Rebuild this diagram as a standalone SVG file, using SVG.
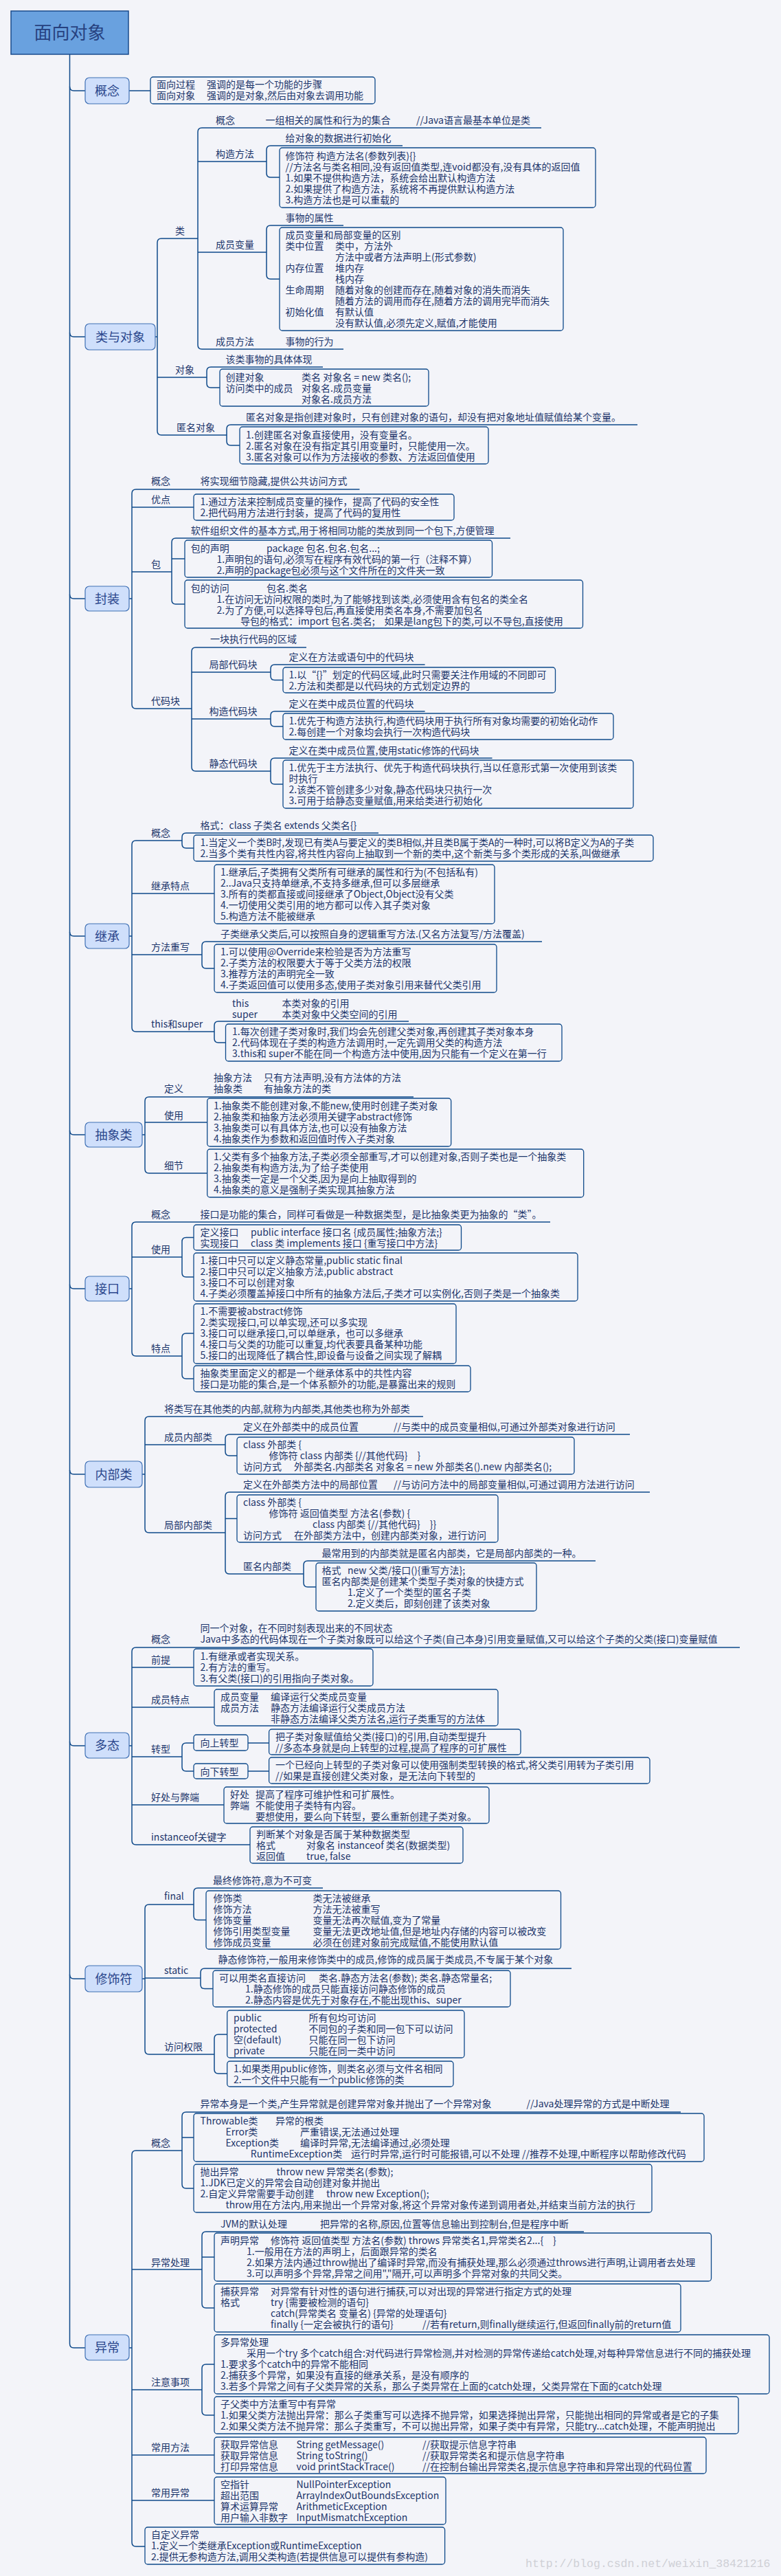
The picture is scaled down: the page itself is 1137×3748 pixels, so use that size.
<svg xmlns="http://www.w3.org/2000/svg" width="1137" height="3748" viewBox="0 0 1137 3748">
<style>
text{font-family:"Noto Sans CJK SC","Noto Sans",sans-serif;font-size:14px;fill:#1c356b}
.n{font-size:18px;text-anchor:middle;fill:#2a468c}
.r{font-size:26px;text-anchor:middle;fill:#27417f}
.bx{fill:none;stroke:#0f4a8a;stroke-width:1.3}
.nb{fill:#cfdffb;stroke:#3f70b4;stroke-width:1.2}
.rb{fill:#69a1df;stroke:#1a4b8c;stroke-width:1.5}
#conn path{fill:none;stroke:#0f4a8a;stroke-width:1.5}
.wm{font-family:"Liberation Mono",monospace;font-size:16.5px;fill:#cfd0d6}
</style>
<rect width="1137" height="3748" fill="#f3f4f9"/>

<g id="conn">
<path d="M101.5,79 V3410 Q101.5,3416 107.5,3416 H124"/>
<path d="M101.5,126 Q101.5,132 107.5,132 H124 M101.5,484 Q101.5,490 107.5,490 H124 M101.5,865 Q101.5,871 107.5,871 H124 M101.5,1356 Q101.5,1362 107.5,1362 H124 M101.5,1645 Q101.5,1651 107.5,1651 H124 M101.5,1869 Q101.5,1875 107.5,1875 H124 M101.5,2139 Q101.5,2145 107.5,2145 H124 M101.5,2534 Q101.5,2540 107.5,2540 H124 M101.5,2873 Q101.5,2879 107.5,2879 H124"/>
<path d="M188,132 H219"/>
<path d="M226,490 H229 M235,347 Q229,347 229,353 V627 Q229,633 235,633 M235,347 H288 M229,549 H301 M235,633 H330"/>
<path d="M294,186 Q288,186 288,192 V502 Q288,508 294,508 M294,186 H788 M288,235 H388 M288,367 H388 M294,508 H500"/>
<path d="M394,212 Q388,212 388,218 V252 Q388,258 394,258 M394,212 H586 M394,258 H407"/>
<path d="M394,328 Q388,328 388,334 V400 Q388,406 394,406 M394,328 H500 M394,406 H407"/>
<path d="M307,534 Q301,534 301,540 V558 Q301,564 307,564 M307,534 H470 M307,564 H320"/>
<path d="M336,618 Q330,618 330,624 V642 Q330,648 336,648 M336,618 H928 M336,648 H349"/>
<path d="M188,871 H192 M198,712 Q192,712 192,718 V1025 Q192,1031 198,1031 M198,712 H523.5 M192,738 H282 M192,832 H250 M198,1031 H279"/>
<path d="M256,783 Q250,783 250,789 V873 Q250,879 256,879 M256,783 H743 M250,813 H269 M256,879 H269"/>
<path d="M285,942 Q279,942 279,948 V1116 Q279,1122 285,1122 M285,942 H446 M279,978 H394 M279,1046 H394 M285,1122 H394"/>
<path d="M400,967 Q394,967 394,973 V983.5 Q394,989.5 400,989.5 M400,967 H618.6 M400,989.5 H412"/>
<path d="M400,1035 Q394,1035 394,1041 V1051 Q394,1057 400,1057 M400,1035 H618.6 M400,1057 H412"/>
<path d="M400,1103 Q394,1103 394,1109 V1135 Q394,1141 400,1141 M400,1103 H716.5 M400,1141 H412"/>
<path d="M188,1362 H192 M198,1223 Q192,1223 192,1229 V1495 Q192,1501 198,1501 M198,1223 H265 M192,1300 H312 M192,1389 H294 M198,1501 H312"/>
<path d="M271,1212 Q265,1212 265,1218 V1228 Q265,1234 271,1234 M271,1212 H551 M271,1234 H282"/>
<path d="M300,1370 Q294,1370 294,1376 V1403 Q294,1409 300,1409 M300,1370 H789 M300,1409 H312"/>
<path d="M318,1486 Q312,1486 312,1492 V1511 Q312,1517 318,1517 M318,1486 H595 M318,1517 H328.5"/>
<path d="M207,1651 H211 M217,1596 Q211,1596 211,1602 V1701 Q211,1707 217,1707 M217,1596 H602 M211,1633 H301.7 M217,1707 H301.7"/>
<path d="M188,1875 H192 M198,1778 Q192,1778 192,1784 V1967 Q192,1973 198,1973 M198,1778 H801 M192,1829 H265 M198,1973 H265"/>
<path d="M271,1800.5 Q265,1800.5 265,1806.5 V1852 Q265,1858 271,1858 M271,1800.5 H282 M271,1858 H282"/>
<path d="M271,1940 Q265,1940 265,1946 V2000 Q265,2006 271,2006 M271,1940 H282 M271,2006 H282"/>
<path d="M207,2145 H211 M217,2061 Q211,2061 211,2067 V2224 Q211,2230 217,2230 M217,2061 H616 M211,2102 H328 M217,2230 H328"/>
<path d="M334,2087 Q328,2087 328,2093 V2112 Q328,2118 334,2118 M334,2087 H917 M334,2118 H345"/>
<path d="M334,2171 Q328,2171 328,2177 V2284 Q328,2290 334,2290 M334,2171 H946 M328,2209.5 H345 M334,2290 H442"/>
<path d="M448,2271 Q442,2271 442,2277 V2303 Q442,2309 448,2309 M448,2271 H867 M448,2309 H460"/>
<path d="M188,2540 H192 M198,2397 Q192,2397 192,2403 V2678 Q192,2684 198,2684 M198,2397 H1077 M192,2426 H282 M192,2484 H312 M192,2556 H265 M192,2626 H326 M198,2684 H364"/>
<path d="M271,2536 Q265,2536 265,2542 V2571 Q265,2577 271,2577 M271,2536 H282 M271,2577 H282 M361,2536 H391.6 M361,2577 H391.6"/>
<path d="M207,2879 H211 M217,2771 Q211,2771 211,2777 V2983 Q211,2989 217,2989 M217,2771 H282 M211,2878 H292 M217,2989 H312"/>
<path d="M288,2747 Q282,2747 282,2753 V2787.5 Q282,2793.5 288,2793.5 M288,2747 H470 M288,2793.5 H300"/>
<path d="M298,2864 Q292,2864 292,2870 V2887.5 Q292,2893.5 298,2893.5 M298,2864 H832 M298,2893.5 H310"/>
<path d="M318,2960 Q312,2960 312,2966 V3011 Q312,3017 318,3017 M318,2960 H330.7 M318,3017 H330.7"/>
<path d="M188,3416 H192 M198,3129 Q192,3129 192,3135 V3699 Q192,3705 198,3705 M198,3129 H265 M192,3302 H294 M192,3477 H294 M192,3572 H312 M192,3638 H312 M198,3705 H211"/>
<path d="M271,3073 Q265,3073 265,3079 V3178 Q265,3184 271,3184 M271,3073 H991 M265,3110 H282 M271,3184 H282"/>
<path d="M300,3247 Q294,3247 294,3253 V3352 Q294,3358 300,3358 M300,3247 H850 M294,3284 H312 M300,3358 H312"/>
<path d="M300,3440 Q294,3440 294,3446 V3508 Q294,3514 300,3514 M300,3440 H312 M300,3514 H312"/>
</g>

<g id="root"><rect class="rb" x="16" y="16" width="171" height="63"/><text class="r" x="101.5" y="57">面向对象</text></g>

<!-- 概念 -->
<g id="gainian"><rect class="nb" x="124" y="113" width="64" height="38" rx="6"/><text class="n" x="156" y="138.5">概念</text></g>
<g id="gainian-box"><rect class="bx" x="219" y="112" width="327" height="39" rx="4"/>
<text><tspan x="228" y="128">面向过程</tspan><tspan x="301" y="128">强调的是每一个功能的步骤</tspan><tspan x="228" y="144">面向对象</tspan><tspan x="301" y="144">强调的是对象,然后由对象去调用功能</tspan></text></g>

<!-- 类与对象 -->
<g id="leiduixiang"><rect class="nb" x="124" y="471" width="102" height="38" rx="6"/><text class="n" x="175" y="496.5">类与对象</text></g>
<g id="lei"><text x="255" y="341">类</text></g>
<g id="lei-gainian"><text x="314" y="180">概念</text><text x="386.5" y="180">一组相关的属性和行为的集合</text><text x="606" y="180">//Java语言最基本单位是类</text></g>
<g id="gouzao"><text x="314" y="229">构造方法</text></g>
<g id="gouzao-def"><text x="415.5" y="206">给对象的数据进行初始化</text></g>
<g id="gouzao-box"><rect class="bx" x="407" y="215" width="460" height="87" rx="4"/>
<text><tspan x="415.5" y="232">修饰符 构造方法名(参数列表){}</tspan><tspan x="415.5" y="248">//方法名与类名相同,没有返回值类型,连void都没有,没有具体的返回值</tspan><tspan x="415.5" y="264">1.如果不提供构造方法，系统会给出默认构造方法</tspan><tspan x="415.5" y="280">2.如果提供了构造方法，系统将不再提供默认构造方法</tspan><tspan x="415.5" y="296">3.构造方法也是可以重载的</tspan></text></g>
<g id="chengyuanbianliang"><text x="314" y="361">成员变量</text></g>
<g id="cybl-def"><text x="415.5" y="322">事物的属性</text></g>
<g id="cybl-box"><rect class="bx" x="407" y="331" width="413" height="150" rx="4"/>
<text><tspan x="415.5" y="347">成员变量和局部变量的区别</tspan><tspan x="415.5" y="363">类中位置</tspan><tspan x="488" y="363">类中，方法外</tspan><tspan x="488" y="379">方法中或者方法声明上(形式参数)</tspan><tspan x="415.5" y="395">内存位置</tspan><tspan x="488" y="395">堆内存</tspan><tspan x="488" y="411">栈内存</tspan><tspan x="415.5" y="427">生命周期</tspan><tspan x="488" y="427">随着对象的创建而存在,随着对象的消失而消失</tspan><tspan x="488" y="443">随着方法的调用而存在,随着方法的调用完毕而消失</tspan><tspan x="415.5" y="459">初始化值</tspan><tspan x="488" y="459">有默认值</tspan><tspan x="488" y="475">没有默认值,必须先定义,赋值,才能使用</tspan></text></g>
<g id="chengyuanfangfa"><text x="314" y="502">成员方法</text><text x="415.5" y="502">事物的行为</text></g>
<g id="duixiang"><text x="255" y="543">对象</text></g>
<g id="duixiang-def"><text x="328.5" y="528">该类事物的具体体现</text></g>
<g id="duixiang-box"><rect class="bx" x="320" y="537" width="304" height="54" rx="4"/>
<text><tspan x="328.5" y="554">创建对象</tspan><tspan x="439" y="554">类名 对象名 = new 类名();</tspan><tspan x="328.5" y="570">访问类中的成员</tspan><tspan x="439" y="570">对象名.成员变量</tspan><tspan x="439" y="586">对象名.成员方法</tspan></text></g>
<g id="niming"><text x="257" y="627">匿名对象</text></g>
<g id="niming-def"><text x="358" y="612">匿名对象是指创建对象时，只有创建对象的语句，却没有把对象地址值赋值给某个变量。</text></g>
<g id="niming-box"><rect class="bx" x="349" y="621" width="362" height="54" rx="4"/>
<text><tspan x="358" y="638">1.创建匿名对象直接使用，没有变量名。</tspan><tspan x="358" y="654">2.匿名对象在没有指定其引用变量时，只能使用一次。</tspan><tspan x="358" y="670">3.匿名对象可以作为方法接收的参数、方法返回值使用</tspan></text></g>

<!-- 封装 -->
<g id="fengzhuang"><rect class="nb" x="124" y="853" width="64" height="36" rx="6"/><text class="n" x="156" y="877.5">封装</text></g>
<g id="fz-gainian"><text x="220" y="705">概念</text><text x="291.5" y="705">将实现细节隐藏,提供公共访问方式</text></g>
<g id="fz-youdian"><text x="220" y="732">优点</text></g>
<g id="fz-youdian-box"><rect class="bx" x="282" y="719" width="379" height="38" rx="4"/>
<text><tspan x="291.5" y="735">1.通过方法来控制成员变量的操作，提高了代码的安全性</tspan><tspan x="291.5" y="751">2.把代码用方法进行封装，提高了代码的复用性</tspan></text></g>
<g id="bao"><text x="220" y="826">包</text></g>
<g id="bao-def"><text x="277.7" y="777">软件组织文件的基本方式,用于将相同功能的类放到同一个包下,方便管理</text></g>
<g id="bao-box1"><rect class="bx" x="269" y="786" width="447.5" height="54" rx="4"/>
<text><tspan x="277.7" y="803">包的声明</tspan><tspan x="388" y="803">package 包名.包名.包名...;</tspan><tspan x="315.5" y="819">1.声明包的语句,必须写在程序有效代码的第一行（注释不算）</tspan><tspan x="315.5" y="835">2.声明的package包必须与这个文件所在的文件夹一致</tspan></text></g>
<g id="bao-box2"><rect class="bx" x="269" y="844" width="579.5" height="70" rx="4"/>
<text><tspan x="277.7" y="861">包的访问</tspan><tspan x="388" y="861">包名.类名</tspan><tspan x="315.5" y="877">1.在访问无访问权限的类时,为了能够找到该类,必须使用含有包名的类全名</tspan><tspan x="315.5" y="893">2.为了方便,可以选择导包后,再直接使用类名本身,不需要加包名</tspan><tspan x="350" y="909">导包的格式：import 包名.类名;　如果是lang包下的类,可以不导包,直接使用</tspan></text></g>
<g id="daimakuai"><text x="220" y="1025">代码块</text></g>
<g id="dmk-def"><text x="306" y="935">一块执行代码的区域</text></g>
<g id="jubu"><text x="304.6" y="972">局部代码块</text><text x="420.6" y="961">定义在方法或语句中的代码块</text></g>
<g id="jubu-box"><rect class="bx" x="412" y="971" width="396.5" height="37" rx="4"/>
<text><tspan x="420.6" y="987">1.以“{}”划定的代码区域,此时只需要关注作用域的不同即可</tspan><tspan x="420.6" y="1003">2.方法和类都是以代码块的方式划定边界的</tspan></text></g>
<g id="gouzaodmk"><text x="304.6" y="1040">构造代码块</text><text x="420.6" y="1029">定义在类中成员位置的代码块</text></g>
<g id="gouzaodmk-box"><rect class="bx" x="412" y="1038" width="481" height="38" rx="4"/>
<text><tspan x="420.6" y="1054">1.优先于构造方法执行,构造代码块用于执行所有对象均需要的初始化动作</tspan><tspan x="420.6" y="1070">2.每创建一个对象均会执行一次构造代码块</tspan></text></g>
<g id="jingtaidmk"><text x="304.6" y="1116">静态代码块</text><text x="420.6" y="1097">定义在类中成员位置,使用static修饰的代码块</text></g>
<g id="jingtaidmk-box"><rect class="bx" x="412" y="1106" width="510" height="70" rx="4"/>
<text><tspan x="420.6" y="1122">1.优先于主方法执行、优先于构造代码块执行,当以任意形式第一次使用到该类</tspan><tspan x="420.6" y="1138">时执行</tspan><tspan x="420.6" y="1154">2.该类不管创建多少对象,静态代码块只执行一次</tspan><tspan x="420.6" y="1170">3.可用于给静态变量赋值,用来给类进行初始化</tspan></text></g>

<!-- 继承 -->
<g id="jicheng"><rect class="nb" x="124" y="1344" width="64" height="36" rx="6"/><text class="n" x="156" y="1368.5">继承</text></g>
<g id="jc-gainian"><text x="220" y="1217">概念</text><text x="291.5" y="1206">格式：class 子类名 extends 父类名{}</text></g>
<g id="jc-gainian-box"><rect class="bx" x="282" y="1215" width="669" height="38" rx="4"/>
<text><tspan x="291.5" y="1231">1.当定义一个类B时,发现已有类A与要定义的类B相似,并且类B属于类A的一种时,可以将B定义为A的子类</tspan><tspan x="291.5" y="1247">2.当多个类有共性内容,将共性内容向上抽取到一个新的类中,这个新类与多个类形成的关系,叫做继承</tspan></text></g>
<g id="jc-tedian"><text x="220" y="1294">继承特点</text></g>
<g id="jc-tedian-box"><rect class="bx" x="312" y="1258" width="408" height="86" rx="4"/>
<text><tspan x="321" y="1274">1.继承后,子类拥有父类所有可继承的属性和行为(不包括私有)</tspan><tspan x="321" y="1290">2..Java只支持单继承,不支持多继承,但可以多层继承</tspan><tspan x="321" y="1306">3.所有的类都直接或间接继承了Object,Object没有父类</tspan><tspan x="321" y="1322">4.一切使用父类引用的地方都可以传入其子类对象</tspan><tspan x="321" y="1338">5.构造方法不能被继承</tspan></text></g>
<g id="jc-chongxie"><text x="220" y="1383">方法重写</text><text x="321" y="1364">子类继承父类后,可以按照自身的逻辑重写方法.(又名方法复写/方法覆盖)</text></g>
<g id="jc-chongxie-box"><rect class="bx" x="312" y="1374" width="411" height="70" rx="4"/>
<text><tspan x="321" y="1390">1.可以使用@Override来检验是否为方法重写</tspan><tspan x="321" y="1406">2.子类方法的权限要大于等于父类方法的权限</tspan><tspan x="321" y="1422">3.推荐方法的声明完全一致</tspan><tspan x="321" y="1438">4.子类返回值可以使用多态,使用子类对象引用来替代父类引用</tspan></text></g>
<g id="jc-this"><text x="220" y="1495">this和super</text>
<text><tspan x="338" y="1465">this</tspan><tspan x="410.5" y="1465">本类对象的引用</tspan><tspan x="338" y="1481">super</tspan><tspan x="410.5" y="1481">本类对象中父类空间的引用</tspan></text></g>
<g id="jc-this-box"><rect class="bx" x="328.5" y="1490" width="489.5" height="54" rx="4"/>
<text><tspan x="338" y="1506">1.每次创建子类对象时,我们均会先创建父类对象,再创建其子类对象本身</tspan><tspan x="338" y="1522">2.代码体现在子类的构造方法调用时,一定先调用父类的构造方法</tspan><tspan x="338" y="1538">3.this和 super不能在同一个构造方法中使用,因为只能有一个定义在第一行</tspan></text></g>

<!-- 抽象类 -->
<g id="chouxiang"><rect class="nb" x="124" y="1633" width="83" height="36" rx="6"/><text class="n" x="165.5" y="1657.5">抽象类</text></g>
<g id="cx-dingyi"><text x="239" y="1589">定义</text>
<text><tspan x="311" y="1573">抽象方法</tspan><tspan x="384" y="1573">只有方法声明,没有方法体的方法</tspan><tspan x="311" y="1589">抽象类</tspan><tspan x="384" y="1589">有抽象方法的类</tspan></text></g>
<g id="cx-shiyong"><text x="239" y="1628">使用</text></g>
<g id="cx-shiyong-box"><rect class="bx" x="301.7" y="1598" width="355" height="70" rx="4"/>
<text><tspan x="311" y="1614">1.抽象类不能创建对象,不能new,使用时创建子类对象</tspan><tspan x="311" y="1630">2.抽象类和抽象方法必须用关键字abstract修饰</tspan><tspan x="311" y="1646">3.抽象类可以有具体方法,也可以没有抽象方法</tspan><tspan x="311" y="1662">4.抽象类作为参数和返回值时传入子类对象</tspan></text></g>
<g id="cx-xijie"><text x="239" y="1701">细节</text></g>
<g id="cx-xijie-box"><rect class="bx" x="301.7" y="1672" width="548" height="70" rx="4"/>
<text><tspan x="311" y="1688">1.父类有多个抽象方法,子类必须全部重写,才可以创建对象,否则子类也是一个抽象类</tspan><tspan x="311" y="1704">2.抽象类有构造方法,为了给子类使用</tspan><tspan x="311" y="1720">3.抽象类一定是一个父类,因为是向上抽取得到的</tspan><tspan x="311" y="1736">4.抽象类的意义是强制子类实现其抽象方法</tspan></text></g>

<!-- 接口 -->
<g id="jiekou"><rect class="nb" x="124" y="1857" width="64" height="36" rx="6"/><text class="n" x="156" y="1881.5">接口</text></g>
<g id="jk-gainian"><text x="220" y="1772">概念</text><text x="291.5" y="1772">接口是功能的集合，同样可看做是一种数据类型，是比抽象类更为抽象的“类”。</text></g>
<g id="jk-shiyong"><text x="220" y="1823">使用</text></g>
<g id="jk-shiyong-box1"><rect class="bx" x="282" y="1782" width="389.5" height="37" rx="4"/>
<text><tspan x="291.5" y="1798">定义接口</tspan><tspan x="365" y="1798">public interface 接口名 {成员属性;抽象方法;}</tspan><tspan x="291.5" y="1814">实现接口</tspan><tspan x="365" y="1814">class 类 implements 接口 {重写接口中方法}</tspan></text></g>
<g id="jk-shiyong-box2"><rect class="bx" x="282" y="1823" width="559" height="70" rx="4"/>
<text><tspan x="291.5" y="1839">1.接口中只可以定义静态常量,public static final</tspan><tspan x="291.5" y="1855">2.接口中只可以定义抽象方法,public abstract</tspan><tspan x="291.5" y="1871">3.接口不可以创建对象</tspan><tspan x="291.5" y="1887">4.子类必须覆盖掉接口中所有的抽象方法后,子类才可以实例化,否则子类是一个抽象类</tspan></text></g>
<g id="jk-tedian"><text x="220" y="1967">特点</text></g>
<g id="jk-tedian-box1"><rect class="bx" x="282" y="1897" width="382" height="87" rx="4"/>
<text><tspan x="291.5" y="1913">1.不需要被abstract修饰</tspan><tspan x="291.5" y="1929">2.类实现接口,可以单实现,还可以多实现</tspan><tspan x="291.5" y="1945">3.接口可以继承接口,可以单继承，也可以多继承</tspan><tspan x="291.5" y="1961">4.接口与父类的功能可以重复,均代表要具备某种功能</tspan><tspan x="291.5" y="1977">5.接口的出现降低了耦合性,即设备与设备之间实现了解耦</tspan></text></g>
<g id="jk-tedian-box2"><rect class="bx" x="282" y="1987" width="403" height="38" rx="4"/>
<text><tspan x="291.5" y="2003">抽象类里面定义的都是一个继承体系中的共性内容</tspan><tspan x="291.5" y="2019">接口是功能的集合,是一个体系额外的功能,是暴露出来的规则</tspan></text></g>

<!-- 内部类 -->
<g id="neibulei"><rect class="nb" x="124" y="2126" width="83" height="38" rx="6"/><text class="n" x="165.5" y="2151.5">内部类</text></g>
<g id="nb-def"><text x="239" y="2055">将类写在其他类的内部,就称为内部类,其他类也称为外部类</text></g>
<g id="nb-chengyuan"><text x="239" y="2096">成员内部类</text><text x="354" y="2081">定义在外部类中的成员位置</text><text x="573" y="2081">//与类中的成员变量相似,可通过外部类对象进行访问</text></g>
<g id="nb-chengyuan-box"><rect class="bx" x="345" y="2091" width="491" height="54" rx="4"/>
<text><tspan x="354" y="2107">class 外部类 {</tspan><tspan x="391.6" y="2123">修饰符 class 内部类 {//其他代码}　}</tspan><tspan x="354" y="2139">访问方式</tspan><tspan x="428" y="2139">外部类名.内部类名 对象名 = new 外部类名().new 内部类名();</tspan></text></g>
<g id="nb-jubu"><text x="239" y="2224">局部内部类</text><text x="354" y="2165">定义在外部类方法中的局部位置</text><text x="573" y="2165">//与访问方法中的局部变量相似,可通过调用方法进行访问</text></g>
<g id="nb-jubu-box"><rect class="bx" x="345" y="2175" width="380" height="69" rx="4"/>
<text><tspan x="354" y="2191">class 外部类 {</tspan><tspan x="391.6" y="2207">修饰符 返回值类型 方法名(参数) {</tspan><tspan x="455" y="2223">class 内部类 {//其他代码}　}}</tspan><tspan x="354" y="2239">访问方式</tspan><tspan x="428" y="2239">在外部类方法中，创建内部类对象，进行访问</tspan></text></g>
<g id="nb-niming"><text x="354" y="2284">匿名内部类</text><text x="468.5" y="2265">最常用到的内部类就是匿名内部类，它是局部内部类的一种。</text></g>
<g id="nb-niming-box"><rect class="bx" x="460" y="2274" width="321" height="70" rx="4"/>
<text><tspan x="468.5" y="2290">格式</tspan><tspan x="506" y="2290">new 父类/接口(){重写方法};</tspan><tspan x="468.5" y="2306">匿名内部类是创建某个类型子类对象的快捷方式</tspan><tspan x="506" y="2322">1.定义了一个类型的匿名子类</tspan><tspan x="506" y="2338">2.定义类后，即刻创建了该类对象</tspan></text></g>

<!-- 多态 -->
<g id="duotai"><rect class="nb" x="124" y="2521" width="64" height="37" rx="6"/><text class="n" x="156" y="2546">多态</text></g>
<g id="dt-gainian"><text x="220" y="2390">概念</text>
<text><tspan x="291.5" y="2374">同一个对象，在不同时刻表现出来的不同状态</tspan><tspan x="291.5" y="2390">Java中多态的代码体现在一个子类对象既可以给这个子类(自己本身)引用变量赋值,又可以给这个子类的父类(接口)变量赋值</tspan></text></g>
<g id="dt-qianti"><text x="220" y="2420">前提</text></g>
<g id="dt-qianti-box"><rect class="bx" x="282" y="2399" width="261" height="54" rx="4"/>
<text><tspan x="291.5" y="2415">1.有继承或者实现关系。</tspan><tspan x="291.5" y="2431">2.有方法的重写。</tspan><tspan x="291.5" y="2447">3.有父类(接口)的引用指向子类对象。</tspan></text></g>
<g id="dt-chengyuan"><text x="220" y="2478">成员特点</text></g>
<g id="dt-chengyuan-box"><rect class="bx" x="312" y="2458" width="413" height="53" rx="4"/>
<text><tspan x="321" y="2474">成员变量</tspan><tspan x="394" y="2474">编译运行父类成员变量</tspan><tspan x="321" y="2490">成员方法</tspan><tspan x="394" y="2490">静态方法编译运行父类成员方法</tspan><tspan x="394" y="2506">非静态方法编译父类方法名,运行子类重写的方法体</tspan></text></g>
<g id="dt-zhuanxing"><text x="220" y="2550">转型</text></g>
<g id="dt-up"><rect class="bx" x="282" y="2524" width="79" height="23" rx="4"/><text x="291.5" y="2541">向上转型</text></g>
<g id="dt-up-box"><rect class="bx" x="391.6" y="2516" width="366.4" height="37" rx="4"/>
<text><tspan x="401" y="2532">把子类对象赋值给父类(接口)的引用,自动类型提升</tspan><tspan x="401" y="2548">//多态本身就是向上转型的过程,提高了程序的可扩展性</tspan></text></g>
<g id="dt-down"><rect class="bx" x="282" y="2566" width="79" height="22" rx="4"/><text x="291.5" y="2582.5">向下转型</text></g>
<g id="dt-down-box"><rect class="bx" x="391.6" y="2557" width="554.4" height="38" rx="4"/>
<text><tspan x="401" y="2573">一个已经向上转型的子类对象可以使用强制类型转换的格式,将父类引用转为子类引用</tspan><tspan x="401" y="2589">//如果是直接创建父类对象，是无法向下转型的</tspan></text></g>
<g id="dt-haochu"><text x="220" y="2620">好处与弊端</text></g>
<g id="dt-haochu-box"><rect class="bx" x="326" y="2600" width="386" height="53" rx="4"/>
<text><tspan x="335" y="2616">好处</tspan><tspan x="372" y="2616">提高了程序可维护性和可扩展性。</tspan><tspan x="335" y="2632">弊端</tspan><tspan x="372" y="2632">不能使用子类特有内容。</tspan><tspan x="372" y="2648">要想使用，要么向下转型，要么重新创建子类对象。</tspan></text></g>
<g id="dt-instanceof"><text x="220" y="2678">instanceof关键字</text></g>
<g id="dt-instanceof-box"><rect class="bx" x="364" y="2658" width="310" height="53" rx="4"/>
<text><tspan x="373" y="2674">判断某个对象是否属于某种数据类型</tspan><tspan x="373" y="2690">格式</tspan><tspan x="446" y="2690">对象名 instanceof 类名(数据类型)</tspan><tspan x="373" y="2706">返回值</tspan><tspan x="446" y="2706">true, false</tspan></text></g>

<!-- 修饰符 -->
<g id="xiushifu"><rect class="nb" x="124" y="2860" width="83" height="38" rx="6"/><text class="n" x="165.5" y="2885.5">修饰符</text></g>
<g id="xs-final"><text x="239" y="2764">final</text><text x="310" y="2741">最终修饰符,意为不可变</text></g>
<g id="xs-final-box"><rect class="bx" x="300" y="2751" width="516.5" height="85" rx="4"/>
<text><tspan x="310.4" y="2767">修饰类</tspan><tspan x="455.4" y="2767">类无法被继承</tspan><tspan x="310.4" y="2783">修饰方法</tspan><tspan x="455.4" y="2783">方法无法被重写</tspan><tspan x="310.4" y="2799">修饰变量</tspan><tspan x="455.4" y="2799">变量无法再次赋值,变为了常量</tspan><tspan x="310.4" y="2815">修饰引用类型变量</tspan><tspan x="455.4" y="2815">变量无法更改地址值,但是地址内存储的内容可以被改变</tspan><tspan x="310.4" y="2831">修饰成员变量</tspan><tspan x="455.4" y="2831">必须在创建对象前完成赋值,不能使用默认值</tspan></text></g>
<g id="xs-static"><text x="239" y="2872">static</text><text x="317.6" y="2856">静态修饰符,一般用来修饰类中的成员,修饰的成员属于类成员,不专属于某个对象</text></g>
<g id="xs-static-box"><rect class="bx" x="310" y="2867" width="433" height="53" rx="4"/>
<text><tspan x="319" y="2883">可以用类名直接访问</tspan><tspan x="464" y="2883">类名.静态方法名(参数); 类名.静态常量名;</tspan><tspan x="357" y="2899">1.静态修饰的成员只能直接访问静态修饰的成员</tspan><tspan x="357" y="2915">2.静态内容是优先于对象存在,不能出现this、super</tspan></text></g>
<g id="xs-quanxian"><text x="239" y="2983">访问权限</text></g>
<g id="xs-quanxian-box1"><rect class="bx" x="330.7" y="2925" width="345.3" height="69" rx="4"/>
<text><tspan x="340" y="2941">public</tspan><tspan x="449.6" y="2941">所有包均可访问</tspan><tspan x="340" y="2957">protected</tspan><tspan x="449.6" y="2957">不同包的子类和同一包下可以访问</tspan><tspan x="340" y="2973">空(default)</tspan><tspan x="449.6" y="2973">只能在同一包下访问</tspan><tspan x="340" y="2989">private</tspan><tspan x="449.6" y="2989">只能在同一类中访问</tspan></text></g>
<g id="xs-quanxian-box2"><rect class="bx" x="330.7" y="2999" width="329.3" height="37" rx="4"/>
<text><tspan x="340" y="3015">1.如果类用public修饰，则类名必须与文件名相同</tspan><tspan x="340" y="3031">2.一个文件中只能有一个public修饰的类</tspan></text></g>

<!-- 异常 -->
<g id="yichang"><rect class="nb" x="124" y="3397" width="64" height="37" rx="6"/><text class="n" x="156" y="3422">异常</text></g>
<g id="yc-gainian"><text x="220" y="3123">概念</text><text x="291.5" y="3066">异常本身是一个类,产生异常就是创建异常对象并抛出了一个异常对象</text><text x="766.5" y="3066">//Java处理异常的方式是中断处理</text></g>
<g id="yc-gainian-box1"><rect class="bx" x="282" y="3075" width="743" height="70" rx="4"/>
<text><tspan x="291.5" y="3091">Throwable类</tspan><tspan x="401" y="3091">异常的根类</tspan><tspan x="328.5" y="3107">Error类</tspan><tspan x="437" y="3107">严重错误,无法通过处理</tspan><tspan x="328.5" y="3123">Exception类</tspan><tspan x="437" y="3123">编译时异常,无法编译通过,必须处理</tspan><tspan x="364.8" y="3139">RuntimeException类</tspan><tspan x="511" y="3139">运行时异常,运行时可能报错,可以不处理 //推荐不处理,中断程序以帮助修改代码</tspan></text></g>
<g id="yc-gainian-box2"><rect class="bx" x="282" y="3149" width="667" height="70" rx="4"/>
<text><tspan x="291.5" y="3165">抛出异常</tspan><tspan x="402.5" y="3165">throw new 异常类名(参数);</tspan><tspan x="291.5" y="3181">1.JDK已定义的异常会自动创建对象并抛出</tspan><tspan x="291.5" y="3197">2.自定义异常需要手动创建</tspan><tspan x="475" y="3197">throw new Exception();</tspan><tspan x="328.5" y="3213">throw用在方法内,用来抛出一个异常对象,将这个异常对象传递到调用者处,并结束当前方法的执行</tspan></text></g>
<g id="yc-chuli"><text x="220" y="3297">异常处理</text><text x="321" y="3241">JVM的默认处理</text><text x="466" y="3241">把异常的名称,原因,位置等信息输出到控制台,但是程序中断</text></g>
<g id="yc-chuli-box1"><rect class="bx" x="312" y="3249" width="723.5" height="70" rx="4"/>
<text><tspan x="321" y="3265">声明异常</tspan><tspan x="394" y="3265">修饰符 返回值类型 方法名(参数) throws 异常类名1,异常类名2...{　}</tspan><tspan x="359" y="3281">1.一般用在方法的声明上，后面跟异常的类名</tspan><tspan x="359" y="3297">2.如果方法内通过throw抛出了编译时异常,而没有捕获处理,那么必须通过throws进行声明,让调用者去处理</tspan><tspan x="359" y="3313">3.可以声明多个异常,异常之间用","隔开,可以声明多个异常对象的共同父类。</tspan></text></g>
<g id="yc-chuli-box2"><rect class="bx" x="312" y="3323" width="679" height="70" rx="4"/>
<text><tspan x="321" y="3339">捕获异常</tspan><tspan x="394" y="3339">对异常有针对性的语句进行捕获,可以对出现的异常进行指定方式的处理</tspan><tspan x="321" y="3355">格式</tspan><tspan x="394" y="3355">try {需要被检测的语句}</tspan><tspan x="394" y="3371">catch(异常类名 变量名) {异常的处理语句}</tspan><tspan x="394" y="3387">finally {一定会被执行的语句}</tspan><tspan x="615" y="3387">//若有return,则finally继续运行,但返回finally前的return值</tspan></text></g>
<g id="yc-zhuyi"><text x="220" y="3471">注意事项</text></g>
<g id="yc-zhuyi-box1"><rect class="bx" x="312" y="3397" width="808" height="86" rx="4"/>
<text><tspan x="321" y="3413">多异常处理</tspan><tspan x="359" y="3429">采用一个try 多个catch组合:对代码进行异常检测,并对检测的异常传递给catch处理,对每种异常信息进行不同的捕获处理</tspan><tspan x="321" y="3445">1.要求多个catch中的异常不能相同</tspan><tspan x="321" y="3461">2.捕获多个异常，如果没有直接的继承关系，是没有顺序的</tspan><tspan x="321" y="3477">3.若多个异常之间有子父类异常的关系，那么子类异常在上面的catch处理，父类异常在下面的catch处理</tspan></text></g>
<g id="yc-zhuyi-box2"><rect class="bx" x="312" y="3487" width="763" height="54" rx="4"/>
<text><tspan x="321" y="3503">子父类中方法重写中有异常</tspan><tspan x="321" y="3519">1.如果父类方法抛出异常：那么子类重写可以选择不抛异常，如果选择抛出异常，只能抛出相同的异常或者是它的子集</tspan><tspan x="321" y="3535">2.如果父类方法不抛异常：那么子类重写，不可以抛出异常，如果子类中有异常，只能try...catch处理，不能声明抛出</tspan></text></g>
<g id="yc-fangfa"><text x="220" y="3566">常用方法</text></g>
<g id="yc-fangfa-box"><rect class="bx" x="312" y="3546" width="716" height="53" rx="4"/>
<text><tspan x="321" y="3562">获取异常信息</tspan><tspan x="431.5" y="3562">String getMessage()</tspan><tspan x="615" y="3562">//获取提示信息字符串</tspan><tspan x="321" y="3578">获取异常信息</tspan><tspan x="431.5" y="3578">String toString()</tspan><tspan x="615" y="3578">//获取异常类名和提示信息字符串</tspan><tspan x="321" y="3594">打印异常信息</tspan><tspan x="431.5" y="3594">void printStackTrace()</tspan><tspan x="615" y="3594">//在控制台输出异常类名,提示信息字符串和异常出现的代码位置</tspan></text></g>
<g id="yc-changyong"><text x="220" y="3632">常用异常</text></g>
<g id="yc-changyong-box"><rect class="bx" x="312" y="3604" width="337" height="69" rx="4"/>
<text><tspan x="321" y="3620">空指针</tspan><tspan x="431.5" y="3620">NullPointerException</tspan><tspan x="321" y="3636">超出范围</tspan><tspan x="431.5" y="3636">ArrayIndexOutBoundsException</tspan><tspan x="321" y="3652">算术运算异常</tspan><tspan x="431.5" y="3652">ArithmeticException</tspan><tspan x="321" y="3668">用户输入非数字</tspan><tspan x="431.5" y="3668">InputMismatchException</tspan></text></g>
<g id="yc-zidingyi"><rect class="bx" x="211" y="3677" width="436.6" height="54" rx="4"/>
<text><tspan x="220" y="3693">自定义异常</tspan><tspan x="220" y="3709">1.定义一个类继承Exception或RuntimeException</tspan><tspan x="220" y="3725">2.提供无参构造方法,调用父类构造(若提供信息可以提供有参构造)</tspan></text></g>

<text class="wm" x="765" y="3735">http://blog.csdn.net/weixin_38421216</text>
</svg>
